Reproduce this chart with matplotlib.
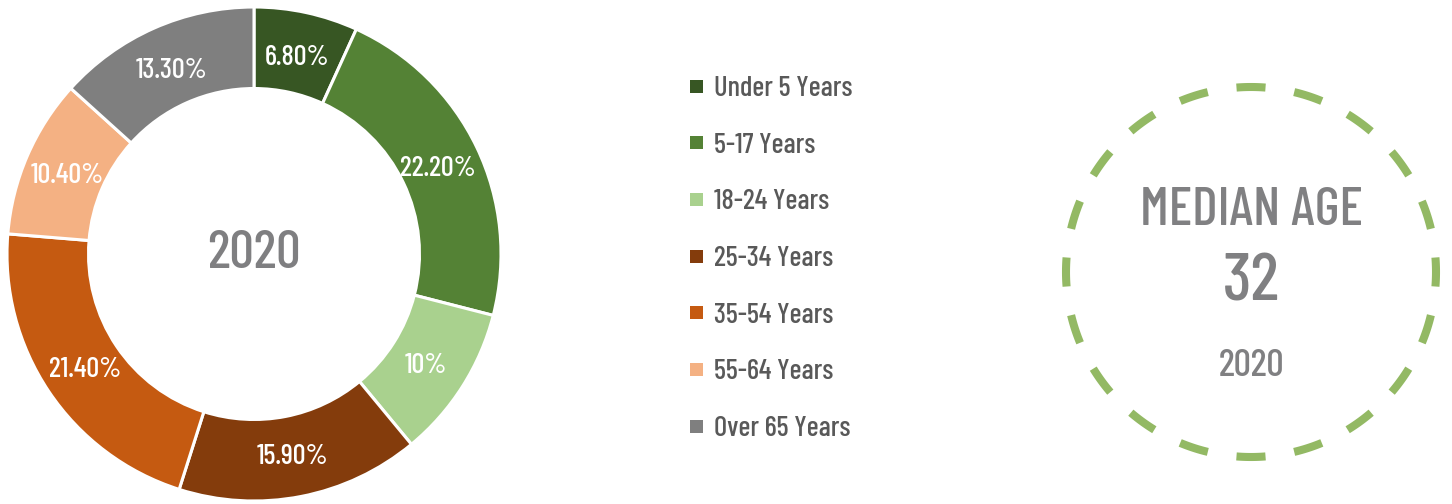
import numpy as np
import matplotlib
matplotlib.use("Agg")
import matplotlib.pyplot as plt
from matplotlib import font_manager as fm
from matplotlib.patches import Rectangle

# ---------------- data ----------------
categories = ["Under 5 Years", "5-17 Years", "18-24 Years", "25-34 Years",
              "35-54 Years", "55-64 Years", "Over 65 Years"]
shares = [6.8, 22.2, 10.0, 15.9, 21.4, 10.4, 13.3]
share_labels = ["6.80%", "22.20%", "10%", "15.90%", "21.40%", "10.40%", "13.30%"]
colors = ["#375623", "#548235", "#A9D18E", "#843C0C", "#C55A11", "#F4B183", "#7F7F7F"]
year = "2020"
median_label = "MEDIAN AGE"
median_age = "32"

# ---------------- font ----------------
names = {f.name for f in fm.fontManager.ttflist}
candidates = ["Barlow Condensed", "Barlow Semi Condensed", "Roboto Condensed",
              "IBM Plex Sans Condensed", "PT Sans Narrow", "Oswald"]
fam = next((c for c in candidates if c in names), "DejaVu Sans")
plt.rcParams["font.family"] = [fam, "DejaVu Sans"]
CAP = 0.70  # cap-height / em

W, H = 1452, 504
fig = plt.figure(figsize=(W / 100, H / 100), dpi=100)
fig.patch.set_facecolor("white")


def cap_text(axis, x, y_center_px_down, s, size, **kw):
    """Place text so its cap/digit height is centred at pixel row y (overlay axes)."""
    cap_px = CAP * size * 100 / 72
    axis.text(x, y_center_px_down + cap_px / 2, s, va="baseline", fontsize=size, **kw)


# ---------------- donut ----------------
cx, cy, R = 254, 254, 247
ax = fig.add_axes([(cx - R) / W, (H - cy - R) / H, 2 * R / W, 2 * R / H])
wedges, _ = ax.pie(shares, colors=colors, startangle=90, counterclock=False, radius=1,
                   wedgeprops=dict(width=0.33, edgecolor="white", linewidth=2.2))
ax.set_xlim(-1, 1)
ax.set_ylim(-1, 1)
ax.axis("off")

# ---------------- overlay (pixel coords) ----------------
ov = fig.add_axes([0, 0, 1, 1])
ov.set_xlim(0, W)
ov.set_ylim(H, 0)
ov.axis("off")
ov.patch.set_alpha(0)

for w, lab in zip(wedges, share_labels):
    ang = np.deg2rad((w.theta1 + w.theta2) / 2)
    r = 0.825 * R
    cap_text(ov, cx + r * np.cos(ang), cy - r * np.sin(ang), lab, 20.5,
             ha="center", color="white", fontweight=500)
cap_text(ov, cx, 249, year, 39, ha="center", color="#7F7F81", fontweight=500)

# legend
y0, dy = 86, 56.67
for i, (cat, col) in enumerate(zip(categories, colors)):
    y = y0 + i * dy
    ov.add_patch(Rectangle((690, y - 6.5), 13, 13, facecolor=col, edgecolor="none"))
    cap_text(ov, 714, y, cat, 20.5, ha="left", color="#595959", fontweight=500)

# dashed circle
mx, my, mr = 1251, 272, 185
for k in range(20):
    a = np.deg2rad(k * 18)
    t = np.linspace(a - np.deg2rad(4.5), a + np.deg2rad(4.5), 20)
    ov.plot(mx + mr * np.cos(t), my - mr * np.sin(t), color="#93B964", lw=5.8,
            solid_capstyle="butt")

cap_text(ov, mx, 206, median_label, 39, ha="center", color="#808082", fontweight=500)
cap_text(ov, mx, 277, median_age, 49, ha="center", color="#808082", fontweight=500)
cap_text(ov, mx, 363, year, 27.5, ha="center", color="#808082", fontweight=500)

fig.savefig("out.png", dpi=100, facecolor="white")
